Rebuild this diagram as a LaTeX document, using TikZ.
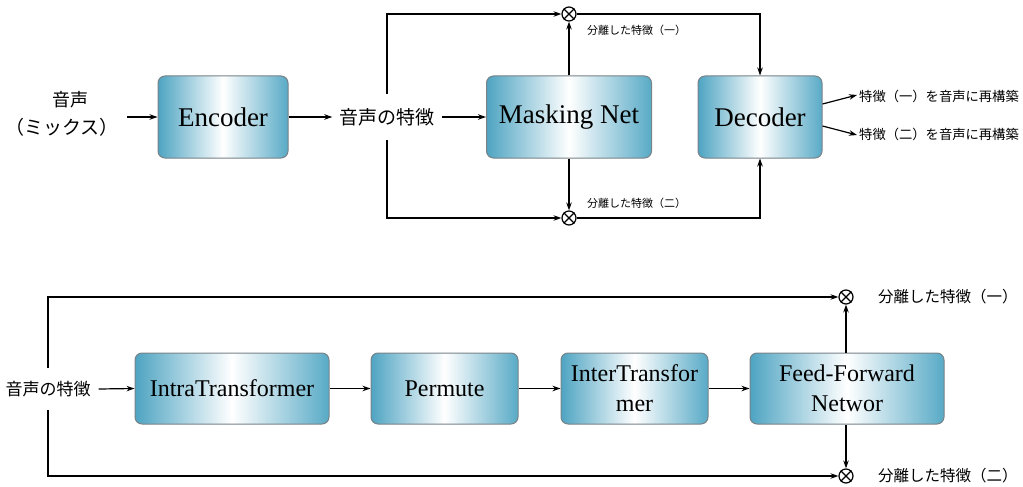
\documentclass[tikz,border=0pt]{standalone}
\usepackage{fontspec}
\setmainfont{Liberation Serif}
\newfontfamily\jp{Noto Sans CJK JP}
\usetikzlibrary{arrows.meta}
\definecolor{boxc}{RGB}{78,164,194}
\definecolor{boxr}{RGB}{88,170,198}
\definecolor{boxedge}{RGB}{120,130,135}
\tikzset{
  blk/.style={rectangle, rounded corners=7pt, draw=boxedge, line width=1pt,
    left color=boxc, right color=boxr, middle color=white, inner sep=0pt, align=center},
  arr/.style={line width=1.2pt, -{Stealth[length=8pt,width=5.5pt]}},
  mul/.style={circle, draw, line width=1.2pt, minimum size=14pt, inner sep=0pt},
  jtxt/.style={inner sep=2pt, font=\jp},
}
\newcommand{\mulx}[1]{\draw[line width=1.2pt] (#1.45) -- (#1.225) (#1.135) -- (#1.315);}
\begin{document}
\begin{tikzpicture}[x=1pt, y=-1pt]
\useasboundingbox (0,0) rectangle (1023,487);
% ---------- top ----------
\node[jtxt, font=\jp\fontsize{18}{20}\selectfont] (in1) at (70,100) {音声};
\node[jtxt, font=\jp\fontsize{19}{22}\selectfont] (in2) at (62,127) {（ミックス）};
\coordinate (inA) at (127,117);
\node[blk, minimum width=130pt, minimum height=82pt, font=\fontsize{27}{32}\selectfont] (enc) at (223,117) {Encoder};
\node[jtxt, font=\jp\fontsize{19}{22}\selectfont, minimum height=46pt, inner xsep=7pt] (f1) at (387,117) {音声の特徴};
\node[blk, minimum width=165pt, minimum height=82pt, font=\fontsize{27}{32}\selectfont] (mn) at (569,117) {Masking Net};
\node[blk, minimum width=124pt, minimum height=82pt, font=\fontsize{27}{32}\selectfont] (dec) at (760,117) {Decoder};
\node[mul] (m1) at (569,14) {}; \mulx{m1}
\node[mul] (m2) at (569,218) {}; \mulx{m2}
\node[jtxt, font=\jp\fontsize{11}{13}\selectfont, anchor=west] (l1) at (585,30) {分離した特徴（一）};
\node[jtxt, font=\jp\fontsize{11}{13}\selectfont, anchor=west] (l2) at (585,203) {分離した特徴（二）};
\node[jtxt, font=\jp\fontsize{13.3}{16}\selectfont, anchor=west] (o1) at (857,96) {特徴（一）を音声に再構築};
\node[jtxt, font=\jp\fontsize{13.3}{16}\selectfont, anchor=west] (o2) at (857,134) {特徴（二）を音声に再構築};

\draw[arr] (inA) -- (enc.west);
\draw[arr] (enc.east) -- (f1.west);
\draw[arr] (f1.east) -- (mn.west);
\draw[arr] (f1.north) |- (m1.west);
\draw[arr] (f1.south) |- (m2.west);
\draw[arr] (mn.north) -- (m1.south);
\draw[arr] (mn.south) -- (m2.north);
\draw[arr] (m1.east) -| (dec.north);
\draw[arr] (m2.east) -| (dec.south);
\draw[arr] ([yshift=13pt]dec.east) -- ([yshift=1pt]o1.west);
\draw[arr] ([yshift=-9pt]dec.east) -- ([yshift=-1pt]o2.west);
% ---------- bottom ----------
\node[jtxt, font=\jp\fontsize{17}{20}\selectfont, minimum height=42pt, inner xsep=8pt] (f2) at (48,389) {音声の特徴};
\node[blk, minimum width=194pt, minimum height=71pt, font=\fontsize{24}{30}\selectfont] (it) at (232,388.5) {IntraTransformer};
\node[blk, minimum width=147pt, minimum height=71pt, font=\fontsize{24}{30}\selectfont] (pm) at (444.5,388.5) {Permute};
\node[blk, minimum width=147pt, minimum height=71pt, font=\fontsize{24}{30}\selectfont] (itr) at (634.5,388.5) {InterTransfor\\mer};
\node[blk, minimum width=194pt, minimum height=71pt, font=\fontsize{24}{30}\selectfont] (ff) at (847,388.5) {Feed-Forward\\Networ};
\node[mul] (n1) at (846,297) {}; \mulx{n1}
\node[mul] (n2) at (846,476) {}; \mulx{n2}
\node[jtxt, font=\jp\fontsize{15.5}{18}\selectfont, anchor=west] (q1) at (876,297) {分離した特徴（一）};
\node[jtxt, font=\jp\fontsize{15.5}{18}\selectfont, anchor=west] (q2) at (876,476) {分離した特徴（二）};

\draw[arr] (f2.east) -- (it.west);
\draw[arr] (it.east) -- (pm.west);
\draw[arr] (pm.east) -- (itr.west);
\draw[arr] (itr.east) -- (ff.west);
\draw[arr] (f2.north) |- (n1.west);
\draw[arr] (f2.south) |- (n2.west);
\draw[arr] (ff.north -| n1.south) -- (n1.south);
\draw[arr] (ff.south -| n2.north) -- (n2.north);
\end{tikzpicture}
\end{document}
